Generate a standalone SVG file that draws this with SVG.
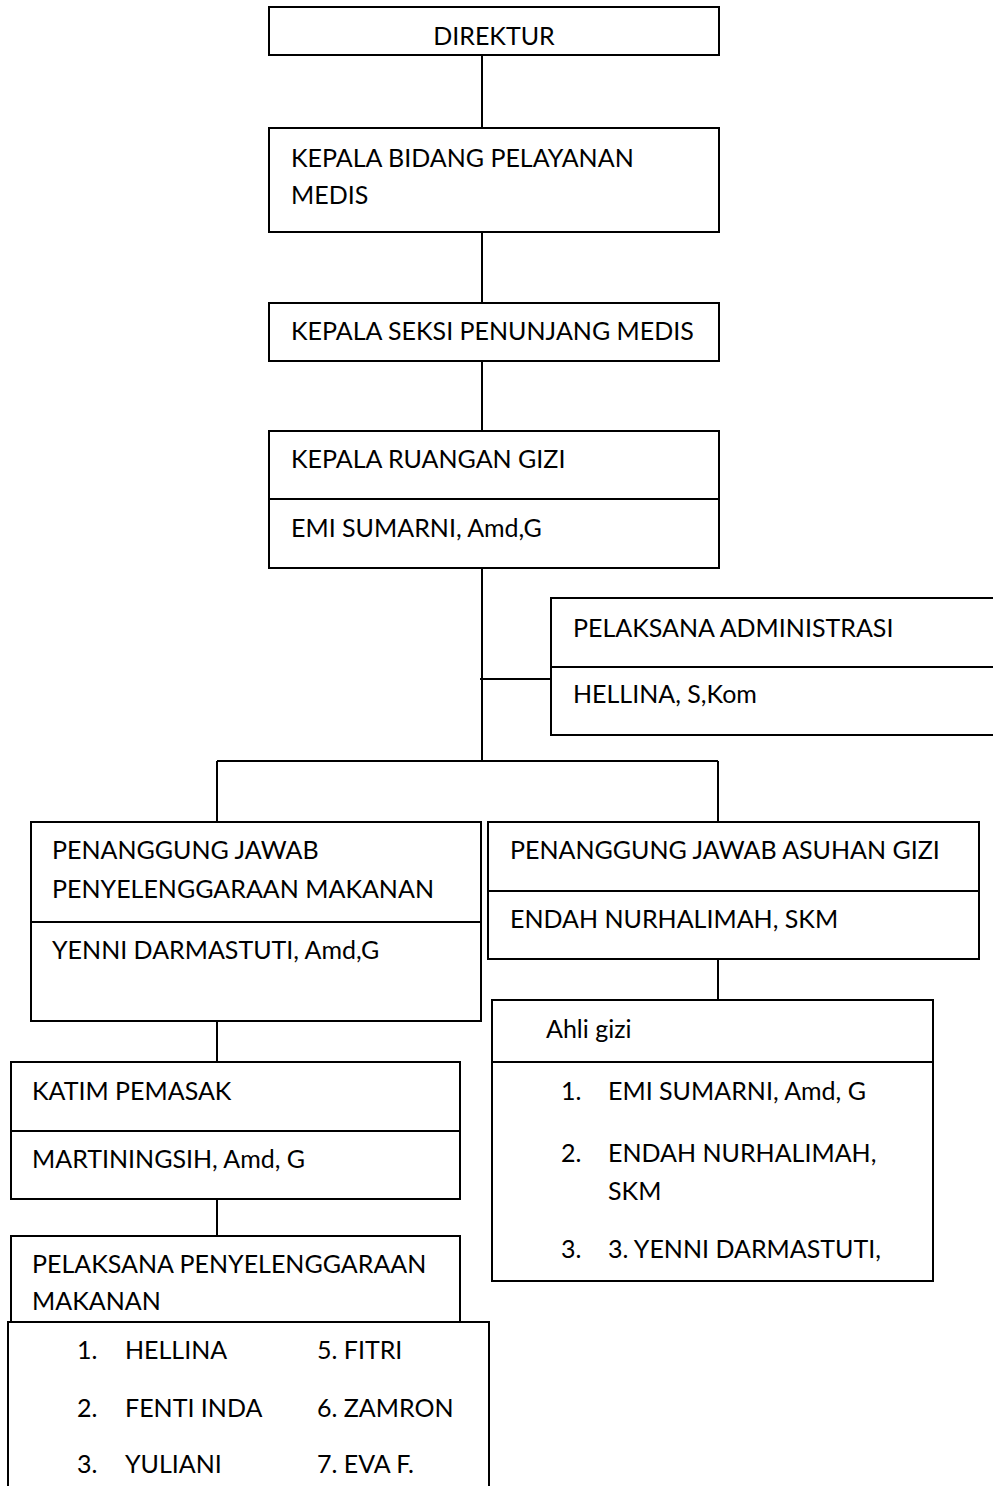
<svg xmlns="http://www.w3.org/2000/svg" width="993" height="1486" viewBox="0 0 993 1486">
<style>
.box{fill:#fff;stroke:#000;stroke-width:2}
.div{stroke:#000;stroke-width:2}
.con{stroke:#000;stroke-width:2;fill:none}
text{font-family:Lato,"Open Sans","Liberation Sans",sans-serif;font-size:25px;fill:#000}
</style>
<rect width="993" height="1486" fill="#fff"/>
<g id="connectors">
<line class="con" x1="482" y1="55" x2="482" y2="128"/>
<line class="con" x1="482" y1="230" x2="482" y2="303"/>
<line class="con" x1="482" y1="361" x2="482" y2="431"/>
<line class="con" x1="482" y1="568" x2="482" y2="761"/>
<line class="con" x1="480" y1="679" x2="551" y2="679"/>
<line class="con" x1="217" y1="761" x2="718" y2="761"/>
<line class="con" x1="217" y1="761" x2="217" y2="822"/>
<line class="con" x1="718" y1="761" x2="718" y2="822"/>
<line class="con" x1="718" y1="959" x2="718" y2="1000"/>
<line class="con" x1="217" y1="1021" x2="217" y2="1062"/>
<line class="con" x1="217" y1="1199" x2="217" y2="1236"/>
</g>
<g id="direktur">
<rect class="box" x="269" y="7" width="450" height="48"/>
<text x="494" y="45" text-anchor="middle">DIREKTUR</text>
</g>
<g id="kabid">
<rect class="box" x="269" y="128" width="450" height="104"/>
<text x="291" y="167">KEPALA BIDANG PELAYANAN</text>
<text x="291" y="204">MEDIS</text>
</g>
<g id="kasi">
<rect class="box" x="269" y="303" width="450" height="58"/>
<text x="291" y="340">KEPALA SEKSI PENUNJANG MEDIS</text>
</g>
<g id="karu">
<rect class="box" x="269" y="431" width="450" height="137"/>
<line class="div" x1="269" y1="499" x2="719" y2="499"/>
<text x="291" y="468">KEPALA RUANGAN GIZI</text>
<text x="291" y="537">EMI SUMARNI, Amd,G</text>
</g>
<g id="admin">
<rect class="box" x="551" y="598" width="460" height="137"/>
<line class="div" x1="551" y1="667" x2="1011" y2="667"/>
<text x="573" y="637">PELAKSANA ADMINISTRASI</text>
<text x="573" y="703">HELLINA, S,Kom</text>
</g>
<g id="pj-makanan">
<rect class="box" x="31" y="822" width="450" height="199"/>
<line class="div" x1="31" y1="922" x2="481" y2="922"/>
<text x="52" y="859">PENANGGUNG JAWAB</text>
<text x="52" y="898">PENYELENGGARAAN MAKANAN</text>
<text x="52" y="959">YENNI DARMASTUTI, Amd,G</text>
</g>
<g id="pj-asuhan">
<rect class="box" x="488" y="822" width="491" height="137"/>
<line class="div" x1="488" y1="891" x2="979" y2="891"/>
<text x="510" y="859">PENANGGUNG JAWAB ASUHAN GIZI</text>
<text x="510" y="928">ENDAH NURHALIMAH, SKM</text>
</g>
<g id="ahli-gizi">
<rect class="box" x="492" y="1000" width="441" height="281"/>
<line class="div" x1="492" y1="1062" x2="933" y2="1062"/>
<text x="546" y="1038">Ahli gizi</text>
<text x="561" y="1100">1.</text>
<text x="608" y="1100">EMI SUMARNI, Amd, G</text>
<text x="561" y="1162">2.</text>
<text x="608" y="1162">ENDAH NURHALIMAH,</text>
<text x="608" y="1200">SKM</text>
<text x="561" y="1258">3.</text>
<text x="608" y="1258">3. YENNI DARMASTUTI,</text>
</g>
<g id="katim">
<rect class="box" x="11" y="1062" width="449" height="137"/>
<line class="div" x1="11" y1="1131" x2="460" y2="1131"/>
<text x="32" y="1100">KATIM PEMASAK</text>
<text x="32" y="1168">MARTININGSIH, Amd, G</text>
</g>
<g id="pelaksana-makanan">
<rect class="box" x="11" y="1236" width="449" height="120"/>
<text x="32" y="1273">PELAKSANA PENYELENGGARAAN</text>
<text x="32" y="1310">MAKANAN</text>
</g>
<g id="pelaksana-list">
<rect class="box" x="8" y="1322" width="481" height="200"/>
<text x="77" y="1359">1.</text>
<text x="125" y="1359">HELLINA</text>
<text x="317" y="1359">5. FITRI</text>
<text x="77" y="1417">2.</text>
<text x="125" y="1417">FENTI INDA</text>
<text x="317" y="1417">6. ZAMRON</text>
<text x="77" y="1473">3.</text>
<text x="125" y="1473">YULIANI</text>
<text x="317" y="1473">7. EVA F.</text>
</g>
</svg>
